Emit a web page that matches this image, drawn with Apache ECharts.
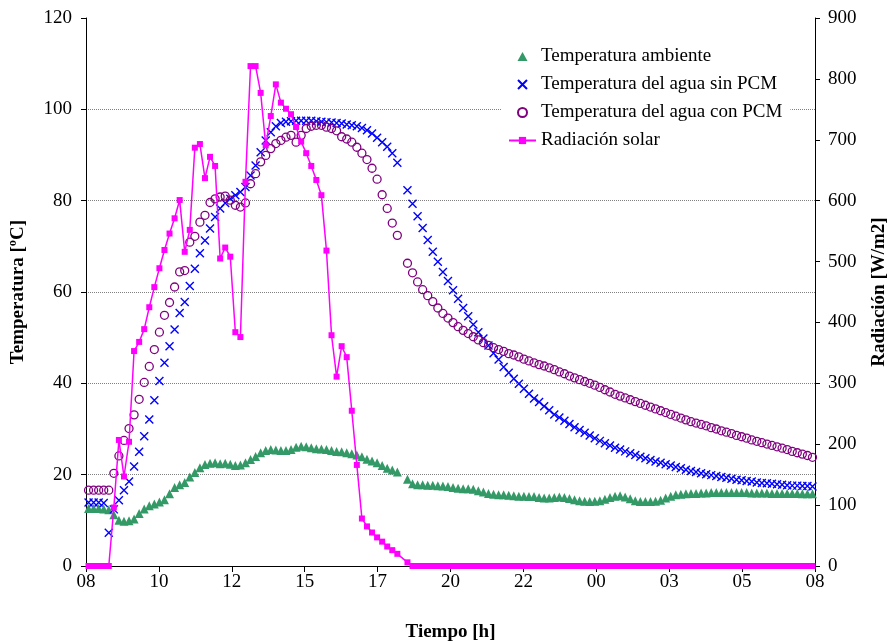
<!DOCTYPE html>
<html>
<head>
<meta charset="utf-8">
<script src="https://cdn.jsdelivr.net/npm/echarts@6/dist/echarts.min.js"></script>
<style>
  html, body { margin: 0; padding: 0; background: #fff; }
  #chart { width: 887px; height: 641px; }
</style>
</head>
<body>
<div id="chart"></div>
<script>
// eje X: horas desde las 08:00 (un dato cada 10 min, el primero a las 08:05)
const startMin = 5;
const stepMin = 10;
const tickLabels = ['08', '10', '12', '15', '17', '20', '22', '00', '03', '05', '08'];

// null = muestra que falta (18:25)
const ambiente = [
    12.6, 12.6, 12.6, 12.5, 12.3,
    11.2, 10.0, 9.8, 9.9, 10.3, 11.5, 12.5, 13.2,
    13.6, 14.0, 14.5, 15.8, 17.2, 17.8, 18.3, 19.5,
    20.5, 21.5, 22.2, 22.5, 22.6, 22.4, 22.5, 22.3,
    22.0, 22.1, 22.6, 23.3, 24.0, 24.8, 25.3, 25.5,
    25.4, 25.3, 25.3, 25.5, 26.0, 26.2, 26.1, 25.9,
    25.7, 25.6, 25.5, 25.3, 25.1, 25.0, 24.8, 24.6,
    24.3, 23.9, 23.4, 23.0, 22.6, 22.0, 21.4, 21.0, 20.6,
    null, 19.0,
    18.0, 17.8, 17.8, 17.7, 17.7, 17.6, 17.5, 17.4,
    17.2, 17.0, 16.9, 16.9, 16.8, 16.5, 16.2, 15.9,
    15.7, 15.6, 15.6, 15.5, 15.4, 15.3, 15.3, 15.2,
    15.2, 15.0, 14.9, 14.9, 15.0, 15.1, 15.0, 14.8,
    14.5, 14.3, 14.2, 14.1, 14.2, 14.3, 14.6, 15.0,
    15.3, 15.4, 15.1, 14.7, 14.3, 14.1, 14.1, 14.1,
    14.2, 14.4, 14.9, 15.3, 15.6, 15.7, 15.8, 15.9,
    15.9, 16.0, 16.0, 16.1, 16.1, 16.1, 16.1, 16.1,
    16.1, 16.1, 16.1, 16.0, 16.0, 16.0, 16.0, 15.9,
    15.9, 15.9, 15.9, 15.9, 15.9, 15.8, 15.8, 15.8
];

const sinPCM = [
    13.9, 13.9, 13.9, 13.8, 7.3,
    12.4, 14.4, 16.6, 18.5, 21.8, 25.0, 28.4, 32.1,
    36.3, 40.5, 44.5, 48.1, 51.8, 55.4, 57.8, 61.3,
    65.1, 68.5, 71.3, 73.9, 76.4, 78.3, 79.5, 80.4,
    81.2, 81.9, 83.0, 85.5, 87.7, 90.6, 93.2, 95.0,
    96.3, 97.0, 97.3, 97.4, 97.5, 97.5, 97.5, 97.5,
    97.4, 97.3, 97.2, 97.1, 97.0, 96.9, 96.7, 96.5,
    96.3, 95.9, 95.4, 94.7, 93.8, 92.8, 91.8, 90.4, 88.3,
    null, 82.3,
    79.3, 76.6, 74.0, 71.4, 68.8, 66.6, 64.4, 62.4,
    60.4, 58.5, 56.5, 54.7, 52.9, 51.2, 49.8, 48.3,
    46.6, 45.2, 43.6, 42.3, 41.0, 39.9, 38.8, 37.7,
    36.7, 35.9, 35.0, 34.1,
    33.2, 32.5, 31.8, 31.1, 30.4, 29.8, 29.2, 28.6,
    28.0, 27.4, 26.9, 26.4, 25.9, 25.5, 25.1, 24.7,
    24.3, 23.9, 23.6, 23.2, 22.9, 22.6, 22.3, 22.0,
    21.7, 21.4, 21.1, 20.8, 20.6, 20.3, 20.1, 19.9,
    19.7, 19.5, 19.3, 19.1, 18.9, 18.8, 18.6, 18.5,
    18.3, 18.2, 18.1, 18.0, 17.9, 17.8, 17.7, 17.6,
    17.6, 17.5, 17.5, 17.4
];

const conPCM = [
    16.6, 16.6, 16.6, 16.6, 16.6,
    20.3, 24.1, 27.5, 30.1, 33.1, 36.5, 40.2, 43.7,
    47.4, 51.2, 54.9, 57.7, 61.1, 64.4, 64.7, 70.9,
    72.2, 75.3, 76.8, 79.6, 80.4, 80.8, 81.0, 80.1,
    79.0, 78.6, 79.5, 83.7, 85.9, 88.5, 89.9, 91.4,
    92.5, 93.2, 93.9, 94.3, 92.8, 94.3, 95.8, 96.3,
    96.5, 96.5, 96.1, 95.8, 95.3, 94.0, 93.5, 92.8,
    91.7, 90.4, 89.0, 87.1, 84.7, 81.3, 78.3, 75.1, 72.4,
    null, 66.3,
    64.2, 62.2, 60.5,
    59.2, 57.9, 56.5, 55.3, 54.3, 53.3, 52.4, 51.6,
    50.9, 50.2, 49.5, 48.9, 48.3, 47.8, 47.4, 47.0,
    46.5, 46.2, 45.8, 45.3, 44.9, 44.5, 44.1, 43.8,
    43.4, 43.0, 42.5, 42.1, 41.6, 41.2, 40.8, 40.4,
    40.0, 39.6, 39.1, 38.6, 38.1, 37.6, 37.2, 36.8,
    36.4, 36.0, 35.6, 35.2, 34.8, 34.4, 34.0, 33.6,
    33.2, 32.8, 32.4, 32.0, 31.6, 31.3, 31.0, 30.7,
    30.3, 30.0, 29.6, 29.3, 29.0, 28.6, 28.3, 28.0,
    27.6, 27.3, 27.0, 26.7, 26.4, 26.1, 25.8, 25.5,
    25.1, 24.8, 24.5, 24.2, 23.8
];

const radiacion = [
    0, 0, 0, 0, 0,
    96, 207, 147, 204, 353, 368, 389, 425,
    458, 489, 519, 546, 571, 601, 516, 552,
    687, 693, 637, 672, 657, 505, 523, 508,
    384, 376, 631, 821, 821, 777, 691, 739,
    791, 761, 751, 742, 721, 697, 678, 657,
    634, 609, 518, 379, 311, 361, 343, 255,
    166, 78, 65, 55, 47, 40, 32, 26, 20,
    null, 6,
    0, 0, 0, 0, 0, 0, 0, 0, 0, 0, 0, 0, 0, 0, 0, 0,
    0, 0, 0, 0, 0, 0, 0, 0, 0, 0, 0, 0, 0, 0, 0, 0,
    0, 0, 0, 0, 0, 0, 0, 0, 0, 0, 0, 0, 0, 0, 0, 0,
    0, 0, 0, 0, 0, 0, 0, 0, 0, 0, 0, 0, 0, 0, 0, 0,
    0, 0, 0, 0, 0, 0, 0, 0, 0, 0, 0, 0, 0, 0, 0, 0
];

const times = radiacion.map((_, i) => (startMin + stepMin * i) / 60);
const pts = arr => arr.map((v, i) => [times[i], v]).filter(p => p[1] !== null);

const font = "'Liberation Serif', 'Times New Roman', serif";
const black = '#000';

const chart = echarts.init(document.getElementById('chart'));

const option = {
    animation: false,
    textStyle: { fontFamily: font },
    grid: { left: 86, right: 72, top: 18, bottom: 75, outerBoundsMode: 'none' },
    legend: {
        orient: 'vertical',
        left: 502,
        top: 39,
        padding: [8, 8, 8, 6],
        backgroundColor: '#fff',
        itemWidth: 27,
        itemHeight: 9,
        itemGap: 9,
        symbolKeepAspect: true,
        textStyle: { fontFamily: font, fontSize: 19, lineHeight: 19, color: black },
        data: [
            'Temperatura ambiente',
            'Temperatura del agua sin PCM',
            'Temperatura del agua con PCM',
            'Radiación solar'
        ]
    },
    xAxis: {
        type: 'value',
        min: 0,
        max: 24,
        interval: 2.4,
        name: 'Tiempo [h]',
        nameLocation: 'middle',
        nameGap: 57,
        nameTextStyle: { fontFamily: font, fontSize: 19, fontWeight: 'bold', color: black },
        axisLine: { lineStyle: { color: black, width: 1 } },
        axisTick: { length: 6, lineStyle: { color: black } },
        splitLine: { show: false },
        axisLabel: {
            margin: 7,
            fontSize: 19,
            color: black,
            formatter: v => tickLabels[Math.round(v / 2.4)]
        }
    },
    yAxis: [
        {
            type: 'value',
            min: 0,
            max: 120,
            interval: 20,
            name: 'Temperatura [ºC]',
            nameLocation: 'middle',
            nameGap: 58,
            nameRotate: 90,
            nameTextStyle: { fontFamily: font, fontSize: 19, fontWeight: 'bold', color: black },
            axisLine: { show: true, lineStyle: { color: black, width: 1 } },
            axisTick: { show: true, length: 5, lineStyle: { color: black } },
            splitLine: {
                show: true,
                lineStyle: {
                    color: ['#808080', '#808080', '#808080', '#808080', '#808080', '#808080', 'rgba(0,0,0,0)'],
                    type: 'dotted',
                    width: 1
                }
            },
            axisLabel: { margin: 14, fontSize: 19, color: black }
        },
        {
            type: 'value',
            position: 'right',
            min: 0,
            max: 900,
            interval: 100,
            name: 'Radiación [W/m2]',
            nameLocation: 'middle',
            nameGap: 55,
            nameRotate: 90,
            nameTextStyle: { fontFamily: font, fontSize: 19, fontWeight: 'bold', color: black },
            axisLine: { show: true, lineStyle: { color: black, width: 1 } },
            axisTick: { show: true, length: 5, lineStyle: { color: black } },
            splitLine: { show: false },
            axisLabel: { margin: 13, fontSize: 19, color: black }
        }
    ],
    series: [
        {
            name: 'Temperatura ambiente',
            type: 'scatter',
            symbol: 'path://M5,0L10,9L0,9Z',
            symbolSize: 9,
            itemStyle: { color: '#339966', opacity: 1 },
            data: pts(ambiente)
        },
        {
            name: 'Temperatura del agua sin PCM',
            type: 'scatter',
            symbol: 'path://M0,0L10,10M10,0L0,10',
            symbolSize: 8,
            itemStyle: { color: 'rgba(0,0,0,0)', borderColor: '#0000ff', borderWidth: 1.4, opacity: 1 },
            data: pts(sinPCM)
        },
        {
            name: 'Temperatura del agua con PCM',
            type: 'scatter',
            symbol: 'circle',
            symbolSize: 8,
            itemStyle: { color: 'rgba(0,0,0,0)', borderColor: '#800080', borderWidth: 1.3, opacity: 1 },
            data: pts(conPCM)
        },
        {
            name: 'Radiación solar',
            type: 'line',
            yAxisIndex: 1,
            symbol: 'rect',
            symbolSize: 6,
            showAllSymbol: true,
            color: '#ff00ff',
            lineStyle: { color: '#ff00ff', width: 1.5 },
            itemStyle: { color: '#ff00ff' },
            data: pts(radiacion)
        }
    ]
};

chart.setOption(option);
</script>
</body>
</html>
